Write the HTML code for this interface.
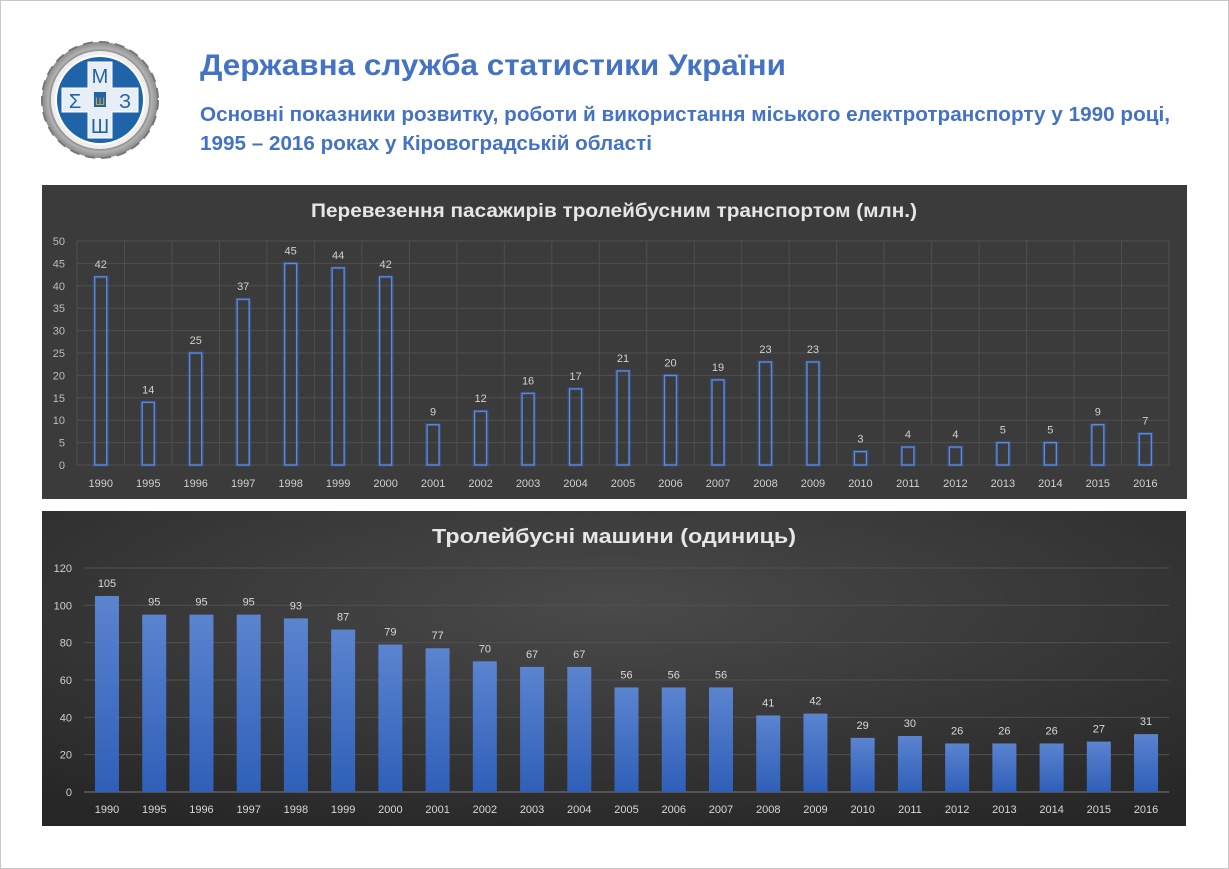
<!DOCTYPE html>
<html><head><meta charset="utf-8"><style>
html,body{margin:0;padding:0;background:#fff;}
svg{display:block;}
</style></head><body>
<svg id="s" width="1229" height="869" xmlns="http://www.w3.org/2000/svg" font-family="'Liberation Sans', sans-serif">
<defs>
<radialGradient id="bg2" cx="0.5" cy="0.3" r="0.8"><stop offset="0" stop-color="#4a4a4a"/><stop offset="1" stop-color="#262626"/></radialGradient>
<linearGradient id="bar2" x1="0" y1="0" x2="0" y2="1"><stop offset="0" stop-color="#5b84d0"/><stop offset="1" stop-color="#2f5fb8"/></linearGradient>
<radialGradient id="rim" cx="0.5" cy="0.5" r="0.5"><stop offset="0.7" stop-color="#f4f4f4"/><stop offset="1" stop-color="#8a8a8a"/></radialGradient>
</defs>
<rect x="0.5" y="0.5" width="1228" height="868" fill="#fff" stroke="#c8c8c8"/>
<!-- logo -->
<g transform="translate(100,100)">
<circle r="58" fill="url(#rim)" stroke="#777" stroke-width="2" stroke-dasharray="10 6"/>
<circle r="50" fill="#eee" stroke="#999" stroke-width="2"/>
<circle r="44" fill="#1f63a8" stroke="#fff" stroke-width="2"/>
<path d="M-12,-38 H12 V-12 H38 V12 H12 V38 H-12 V12 H-38 V-12 H-12 Z" fill="#e8eef6" stroke="#fff"/>
<text x="0" y="-17" font-size="20" text-anchor="middle" fill="#1f63a8">М</text>
<text x="0" y="33" font-size="20" text-anchor="middle" fill="#1f63a8">Ш</text>
<text x="-25" y="8" font-size="20" text-anchor="middle" fill="#1f63a8">Σ</text>
<text x="25" y="8" font-size="20" text-anchor="middle" fill="#1f63a8">З</text>
<rect x="-6" y="-8" width="12" height="15" fill="#1f63a8"/>
<text x="0" y="5" font-size="11" text-anchor="middle" fill="#e0b020">Ш</text>
</g>
<text x="200" y="75" font-size="30" font-weight="bold" fill="#4472c4" textLength="586" lengthAdjust="spacingAndGlyphs">Державна служба статистики України</text>
<text x="200" y="121" font-size="20" font-weight="bold" fill="#4472c4" textLength="970" lengthAdjust="spacingAndGlyphs">Основні показники розвитку, роботи й використання міського електротранспорту у 1990 році,</text>
<text x="200" y="150" font-size="20" font-weight="bold" fill="#4472c4" textLength="452" lengthAdjust="spacingAndGlyphs">1995 – 2016 роках у Кіровоградській області</text>
<!-- chart 1 -->
<rect x="42" y="185" width="1145" height="314" fill="#3b3b3b"/>
<text x="614" y="217" font-size="19" font-weight="bold" fill="#e6e6e6" text-anchor="middle" textLength="606" lengthAdjust="spacingAndGlyphs">Перевезення пасажирів тролейбусним транспортом (млн.)</text>
<g id="c1"></g>
<!-- chart 2 -->
<rect x="42" y="511" width="1144" height="315" fill="url(#bg2)"/>
<text x="614" y="543" font-size="20" font-weight="bold" fill="#e6e6e6" text-anchor="middle" textLength="364" lengthAdjust="spacingAndGlyphs">Тролейбусні машини (одиниць)</text>
<g id="c2"></g>
</svg>
<script>
var NS="http://www.w3.org/2000/svg";
function el(p,t,a,txt){var e=document.createElementNS(NS,t);for(var k in a)e.setAttribute(k,a[k]);if(txt!=null)e.textContent=txt;p.appendChild(e);return e;}
var yrs=[1990];for(var y=1995;y<=2016;y++)yrs.push(y);
var d1=[42,14,25,37,45,44,42,9,12,16,17,21,20,19,23,23,3,4,4,5,5,9,7];
var d2=[105,95,95,95,93,87,79,77,70,67,67,56,56,56,41,42,29,30,26,26,26,27,31];
var g1=document.getElementById("c1");
for(var v=0;v<=50;v+=5){var yy=465-v*4.48;
 el(g1,"line",{x1:77,x2:1169,y1:yy,y2:yy,stroke:"#4f4f4f","stroke-width":1});
 el(g1,"text",{x:65,y:yy+4,"font-size":11,fill:"#bdbdbd","text-anchor":"end"},v);}
for(var i=0;i<=23;i++){var xx=77+i*47.48;el(g1,"line",{x1:xx,x2:xx,y1:241,y2:465,stroke:"#4f4f4f"});}
for(var i=0;i<23;i++){var cx=100.75+i*47.48,h=d1[i]*4.48;
 el(g1,"rect",{x:cx-6.5,y:465-h,width:13,height:h,fill:"none",stroke:"#3d6fd0","stroke-width":3,opacity:0.35});
 el(g1,"rect",{x:cx-6,y:465-h,width:12,height:h,fill:"none",stroke:"#5b8ae0","stroke-width":1.3});
 el(g1,"text",{x:cx,y:465-h-9,"font-size":11,fill:"#d0d0d0","text-anchor":"middle"},d1[i]);
 el(g1,"text",{x:cx,y:487,"font-size":11,fill:"#d0d0d0","text-anchor":"middle"},yrs[i]);}
var g2=document.getElementById("c2");
for(var v=0;v<=120;v+=20){var yy=792-v*1.867;
 el(g2,"line",{x1:84,x2:1169,y1:yy,y2:yy,stroke:v==0?"#7a7a7a":"#505050","stroke-width":1});
 el(g2,"text",{x:72,y:yy+4,"font-size":11,fill:"#d0d0d0","text-anchor":"end"},v);}
for(var i=0;i<23;i++){var cx=107+i*47.23,h=d2[i]*1.867;
 el(g2,"rect",{x:cx-12,y:792-h,width:24,height:h,fill:"url(#bar2)"});
 el(g2,"text",{x:cx,y:792-h-9,"font-size":11,fill:"#d8d8d8","text-anchor":"middle"},d2[i]);
 el(g2,"text",{x:cx,y:813,"font-size":11,fill:"#d8d8d8","text-anchor":"middle"},yrs[i]);}
</script>
</body></html>
